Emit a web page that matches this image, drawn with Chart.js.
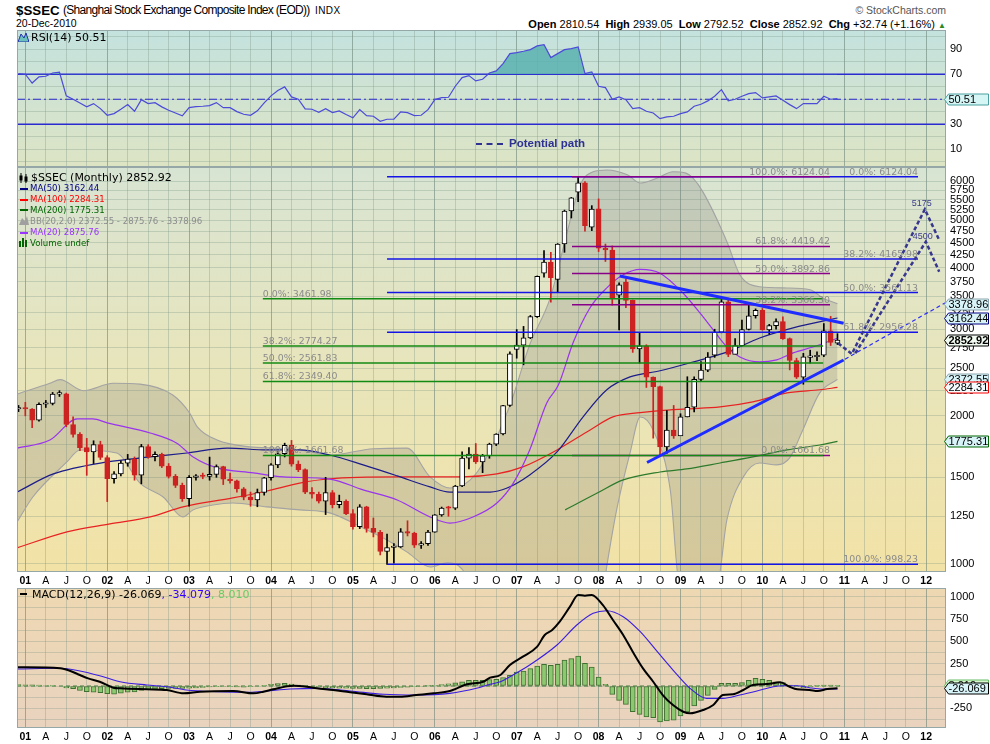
<!DOCTYPE html>
<html>
<head>
<meta charset="utf-8">
<title>$SSEC Monthly</title>
<script src="https://cdn.jsdelivr.net/npm/chart.js@4.4.1/dist/chart.umd.min.js"></script>
<style>
html,body{margin:0;padding:0;background:#fff;}
body{width:990px;height:744px;position:relative;overflow:hidden;}
canvas{position:absolute;left:0;}
.t{position:absolute;white-space:nowrap;z-index:5;line-height:1;}
.dj{font-family:"DejaVu Sans",sans-serif;}
.ar{font-family:"Liberation Sans",Arial,sans-serif;}
.ic{position:absolute;z-index:5;}
</style>
</head>
<body>
<div class="t ar" style="left:16px;top:3.5px;font-size:13.3px;font-weight:bold;">$SSEC</div>
<div class="t ar" style="left:63px;top:4px;font-size:12px;letter-spacing:-0.7px;">(Shanghai Stock Exchange Composite Index (EOD))</div>
<div class="t ar" style="left:315px;top:6px;font-size:10px;letter-spacing:0.4px;">INDX</div>
<div class="t ar" style="left:16px;top:18px;font-size:10.5px;">20-Dec-2010</div>
<div class="t ar" style="right:44px;top:5px;font-size:10.5px;color:#555;">&copy; StockCharts.com</div>
<div class="t ar" style="right:44px;top:18.5px;font-size:11px;"><b>Open</b> 2810.54&nbsp; <b>High</b> 2939.05&nbsp; <b>Low</b> 2792.52&nbsp; <b>Close</b> 2852.92&nbsp; <b>Chg</b> +32.74 (+1.16%) <span style="color:#2a8a2a;font-size:8px;">&#9650;</span></div>

<canvas id="rsi" width="990" height="137" style="top:30px;"></canvas>
<canvas id="main" width="990" height="421" style="top:167px;"></canvas>
<canvas id="macd" width="990" height="156" style="top:588px;"></canvas>

<!-- RSI legend -->
<svg class="ic" style="left:18px;top:32px;" width="11" height="10"><polygon points="0,10 3,2 6,6 8,1 11,10" fill="#6cc0bb" stroke="#2233aa" stroke-width="1"/></svg>
<div class="t dj" style="left:31px;top:31.7px;font-size:11px;color:#000;">RSI(14) 50.51</div>

<!-- potential path legend -->
<div class="ic" style="left:476px;top:143px;width:27px;height:0;border-top:2.5px dashed #2e3192;"></div>
<div class="t ar" style="left:509px;top:138px;font-size:11.5px;font-weight:bold;color:#2e3192;">Potential path</div>

<!-- main legend -->
<svg class="ic" style="left:19px;top:173px;" width="10" height="10"><line x1="2" y1="0" x2="2" y2="10" stroke="#000"/><rect x="0.5" y="2.5" width="3" height="5" fill="#000"/><line x1="7" y1="1" x2="7" y2="10" stroke="#000"/><rect x="5.5" y="3.5" width="3" height="5" fill="#000"/></svg>
<div class="t dj" style="left:31px;top:172.4px;font-size:11px;color:#000;">$SSEC (Monthly) 2852.92</div>
<div class="ic" style="left:20px;top:187.5px;width:8px;height:2px;background:#000080;"></div>
<div class="t dj" style="left:30px;top:184.2px;font-size:8.6px;color:#000080;">MA(50) 3162.44</div>
<div class="ic" style="left:20px;top:198.5px;width:8px;height:2px;background:#ff0000;"></div>
<div class="t dj" style="left:30px;top:195.2px;font-size:8.6px;color:#ff0000;">MA(100) 2284.31</div>
<div class="ic" style="left:20px;top:209.2px;width:8px;height:2px;background:#006400;"></div>
<div class="t dj" style="left:30px;top:205.9px;font-size:8.6px;color:#006400;">MA(200) 1775.31</div>
<svg class="ic" style="left:19px;top:216px;" width="10" height="9"><polygon points="0,9 3,2 6,5 8,0 10,9" fill="#a0a0a0"/></svg>
<div class="t dj" style="left:30px;top:216.9px;font-size:8.6px;color:#8c8c8c;">BB(20,2.0) 2372.55 - 2875.76 - 3378.96</div>
<div class="ic" style="left:20px;top:231.5px;width:8px;height:2px;background:#9933ff;"></div>
<div class="t dj" style="left:30px;top:228.2px;font-size:8.6px;color:#9933ff;">MA(20) 2875.76</div>
<svg class="ic" style="left:19px;top:238px;" width="10" height="9"><rect x="0" y="3" width="2" height="6" fill="#006400"/><rect x="3" y="0" width="2" height="9" fill="#006400"/><rect x="6" y="2" width="2" height="7" fill="#006400"/></svg>
<div class="t dj" style="left:30px;top:238.6px;font-size:8.6px;color:#006400;">Volume undef</div>

<!-- MACD legend -->
<div class="ic" style="left:20px;top:593px;width:7px;height:2px;background:#000;"></div>
<div class="t dj" style="left:32px;top:589px;font-size:11px;color:#000;">MACD(12,26,9) -26.069<span style="color:#3300ff;">, -34.079</span><span style="color:#66cc66;">, 8.010</span></div>

<script>
// ---------------- DATA ----------------
const X_MIN = -1.22, X_MAX = 134.9;      // month index, 0 = Jan 2001
const FIRST_MONTH = -1;                   // first candle = Dec 2000
const xTickLabels = ['01','A','J','O','02','A','J','O','03','A','J','O','04','A','J','O','05','A','J','O','06','A','J','O',
  '07','A','J','O','08','A','J','O','09','A','J','O','10','A','J','O','11','A','J','O','12'];
const priceTicks = [1000,1250,1500,1750,2000,2250,2500,2750,3000,3250,3500,3750,4000,4250,4500,4750,5000,5250,5500,5750,6000];
const rsiTicks = [0,10,20,30,40,50,60,70,80,90,100];
const rsiLabelled = [10,30,50,70,90];
const macdTicks = [-375,-250,-125,0,125,250,375,500,625,750,875,1000];

const opens = [2065,
 2073,2065,1960,2112,2119,2214,2218,1921,1834,1724,1690,1748,
 1646,1491,1524,1603,1634,1515,1732,1653,1670,1581,1507,1445,
 1358,1500,1511,1506,1521,1577,1487,1476,1421,1367,1349,1397,
 1497,1590,1675,1742,1595,1555,1399,1386,1342,1396,1320,1340,
 1266,1191,1306,1181,1159,1060,1080,1083,1162,1155,1092,1099,
 1161,1258,1299,1298,1440,1641,1672,1612,1658,1752,1837,2099,
 2728,2786,2881,3183,3900,4109,3790,4471,5218,5700,5954,4840,
 5273,4383,4348,3520,3740,3433,2736,2775,2397,2293,1729,1871,
 1821,1991,2082,2373,2477,2658,2959,3412,2667,2779,2996,3195,
 3277,2989,3051,3110,2871,2592,2398,2630,2638,2656,2979,2810];
const highs = [2100,
 2131,2070,2125,2150,2232,2250,2225,1990,1850,1800,1780,1776,
 1660,1540,1620,1670,1650,1750,1748,1690,1680,1600,1520,1460,
 1512,1520,1530,1649,1590,1580,1530,1480,1430,1400,1420,1500,
 1600,1690,1760,1783,1620,1560,1430,1400,1500,1410,1380,1350,
 1290,1320,1310,1240,1170,1150,1100,1180,1224,1160,1110,1170,
 1260,1305,1310,1445,1690,1725,1757,1670,1760,1840,2100,2698,
 2995,3040,3200,3850,4335,4300,4480,5240,5560,6124,5990,5350,
 5522,4470,4430,3730,3800,3440,2952,2790,2400,2300,2050,2100,
 2020,2402,2400,2580,2690,3000,3478,3470,2870,3130,3361,3300,
 3306,3070,3150,3181,2880,2620,2680,2720,2700,3080,3186,2939];
const lows = [2040,
 2000,1893,1950,2080,2105,2190,1900,1810,1700,1514,1600,1630,
 1339,1460,1510,1580,1480,1455,1640,1620,1570,1495,1430,1340,
 1311,1480,1490,1480,1500,1450,1460,1400,1350,1310,1307,1380,
 1480,1570,1650,1580,1540,1390,1360,1330,1260,1300,1300,1259,
 1177,1180,1160,1135,1043,998,1004,1080,1140,1080,1075,1090,
 1160,1250,1250,1290,1435,1560,1600,1533,1640,1740,1830,2090,
 2620,2540,2870,3170,3830,3404,3563,4300,5050,5450,4750,4760,
 4315,4120,3357,2990,3320,2692,2560,2284,1802,1664,1678,1800,
 1844,1990,2037,2350,2460,2630,2950,2639,2700,2770,2990,3160,
 2987,2930,3000,2861,2480,2382,2319,2560,2590,2640,2780,2792];
const closes = [2073,
 2065,1960,2112,2119,2214,2218,1921,1834,1724,1690,1748,1646,
 1491,1524,1603,1634,1515,1732,1653,1670,1581,1507,1445,1358,
 1500,1511,1506,1521,1577,1487,1476,1421,1367,1349,1397,1497,
 1590,1675,1742,1595,1555,1399,1386,1342,1396,1320,1340,1266,
 1191,1306,1181,1159,1060,1080,1083,1162,1155,1092,1099,1161,
 1258,1299,1298,1440,1641,1672,1612,1658,1752,1837,2099,2675,
 2786,2881,3183,3841,4109,3820,4471,5218,5552,5954,4871,5262,
 4383,4348,3473,3693,3433,2736,2775,2397,2293,1729,1871,1821,
 1991,2082,2373,2477,2633,2959,3412,2667,2779,2996,3195,3277,
 2989,3051,3110,2871,2592,2398,2638,2638,2656,2979,2820,2852.92];

const rsi14 = [70.5,
 70,63,67.9,68.4,71,71.6,52.7,50,47,43.9,46.5,42.5,
 37.2,38.5,42,45.7,40.4,49.7,46.5,47.3,43.9,41.2,39,36.7,
 43.3,44.1,44.4,44.9,47.3,43.3,43.3,40.1,38,37.2,40.7,47.1,
 52.7,57,59.9,51.9,50,42.3,42,39.6,42.5,39.3,40.7,37.8,
 35.1,41.7,36.9,36.4,32.4,34,34,39.9,39.3,36.9,37.2,41.7,
 49.7,51.3,51.6,60.4,67.3,68.9,64.7,66,71,72.7,78.5,86.5,
 87.3,88.4,89.7,92.7,93.7,83.3,86.5,89.7,90.5,91.9,70.5,71.9,
 60.4,59.3,50,51.9,49.7,42.5,43.3,40.4,39,34.5,35.9,36.4,
 38.5,39.9,44.4,46,48.7,52.4,57.7,48.7,50,52.4,54.5,55.3,
 51.1,51.9,52.7,49.2,45.7,42.5,46.5,46.5,46.5,52.4,50,50.51];

const macdHist = [15,
 14,12,9,6,3,0,-20,-30,-50,-62,-70,-75,
 -85,-90,-80,-70,-65,-48,-42,-35,-30,-28,-26,-28,
 -25,-20,-15,-10,-8,-5,-8,-10,-12,-8,0,8,
 18,28,30,22,10,5,-5,-10,-18,-22,-25,-25,
 -28,-28,-30,-30,-28,-25,-22,-15,-12,-8,-5,5,
 8,15,25,35,48,63,63,63,71,75,93,120,
 157,168,194,224,243,231,243,291,306,336,254,213,
 101,19,-93,-160,-205,-287,-317,-347,-355,-403,-392,-381,
 -336,-291,-224,-160,-104,-37,30,30,30,37,64,86,
 75,64,48,37,11,-8,-19,-8,8,11,11,8.01];

// sparse [month, value] readings of the overlay lines
const ma20 = [[-1.2,1720],[3.6,1786],[7.6,1972],[9.9,1972],[12.0,1935],[18.3,1846],[22.2,1760],[24.6,1650],[28.1,1568],[33.4,1532],[37.8,1503],[44.6,1488],[49.5,1414],[54.5,1349],[59.3,1246],[62.2,1211],[65.6,1246],[69.1,1330],[71.5,1460],[73.9,1705],[76.4,2125],[78.1,2310],[80.3,2825],[82.7,3310],[85.2,3640],[87.6,3870],[90.1,3970],[93.0,3900],[96.4,3550],[98.9,3230],[100.8,2990],[102.8,2760],[104.7,2635],[107.6,2575],[110.1,2600],[112.5,2685],[115.4,2760],[119,2875.76]];
const ma50 = [[-1.2,1400],[4.1,1524],[12.0,1612],[18.3,1650],[23.7,1681],[29.6,1720],[35.4,1705],[40.2,1705],[44.6,1665],[49.5,1590],[54.5,1510],[59.3,1434],[62.2,1400],[68.1,1400],[70.6,1427],[73.9,1517],[77.9,1689],[81.7,1989],[85.2,2260],[88.6,2400],[93.0,2470],[97.8,2573],[102.8,2695],[107.6,2880],[112.5,3020],[119,3162.44]];
const ma100 = [[-1.2,1078],[6.1,1162],[12.4,1206],[18.3,1246],[23.1,1306],[30.4,1362],[35.4,1407],[40.2,1460],[44.6,1490],[54.5,1503],[64.1,1503],[69.1,1524],[72.9,1575],[77.9,1705],[82.7,1870],[86.1,1990],[90.1,2030],[93.0,2050],[96.9,2066],[101.8,2085],[106.6,2135],[111.6,2227],[116.4,2260],[119,2284.31]];
const ma200 = [[79.1,1288],[83.8,1394],[87.6,1482],[93.0,1538],[96.9,1560],[101.8,1604],[106.6,1650],[111.6,1705],[116.4,1745],[119,1775.31]];
const bbUpper = [[-1.2,2215],[3.6,2330],[5.1,2370],[8.5,2250],[12.9,2330],[16.8,2320],[21.6,2205],[24.1,2025],[25.2,1900],[28.1,1786],[32.9,1730],[36.9,1720],[40.2,1705],[44.6,1665],[51.0,1715],[55.9,1720],[59.3,1503],[62.2,1427],[65.2,1482],[67.6,1650],[71.0,2100],[73.9,2790],[76.9,3470],[79.4,4730],[81.3,5890],[83.2,6270],[85.2,6320],[88.2,6180],[90.1,5950],[92.6,6090],[94.9,6270],[96.8,6230],[97.8,6090],[99.3,5700],[102.8,4520],[104.7,3870],[107.6,3660],[111.6,3640],[115.0,3610],[116.9,3470],[119,3378.96]];
const bbLower = [[-1.2,1217],[1.1,1368],[6.1,1612],[8.0,1705],[13.4,1681],[16.8,1460],[20.2,1368],[23.1,1246],[24.6,1288],[27.5,1318],[30.4,1330],[35.4,1306],[40.2,1288],[44.6,1270],[49.5,1183],[53.0,1119],[55.9,1058],[59.3,986],[61.8,1005],[64.1,972],[65.9,800],[84.2,800],[85.2,990],[86.7,1300],[88.6,1681],[90.1,1990],[92.0,1870],[94.5,1414],[95.9,900],[101.3,900],[102.8,1230],[105.2,1503],[107.6,1604],[110.1,1590],[112.0,1643],[113.9,1870],[116.4,2227],[119,2372.55]];

const macdLine = [[-1.2,209],[0.2,209],[5.1,198],[6.6,168],[8.0,123],[9.2,86],[10.9,48],[12.9,-19],[13.9,-26],[17.8,-37],[20.7,-45],[23.2,-82],[25.6,-64],[30.5,-56],[33.4,-82],[34.9,-64],[36.3,-37],[39.3,3],[41.2,-8],[42.7,-26],[45.1,-45],[47.6,-71],[50.0,-93],[52.9,-120],[54.9,-120],[57.3,-101],[59.8,-82],[62.2,-56],[64.7,19],[67.1,48],[68.1,93],[69.6,123],[71.0,235],[72.9,328],[75.0,440],[76.1,571],[77.2,627],[78.3,720],[79.8,888],[81.0,1019],[82.0,1011],[83.0,1019],[84.6,907],[86.1,739],[87.6,571],[89.0,384],[90.5,198],[92.0,48],[93.4,-101],[94.9,-213],[96.4,-288],[97.4,-306],[99.3,-269],[100.8,-213],[102.2,-101],[103.7,-93],[105.2,-45],[106.6,11],[108.7,22],[110.6,41],[112.0,-8],[113.1,-37],[114.9,-45],[116.1,-56],[117.5,-34],[119,-26.069]];
const signalLine = [[-1.2,190],[5.1,198],[8.0,168],[10.9,115],[13.9,48],[17.8,11],[20.7,-8],[23.6,-45],[28.0,-64],[32.9,-71],[35.4,-56],[38.8,-34],[42.7,-26],[47.6,-56],[52.5,-93],[57.3,-101],[62.2,-82],[66.1,-26],[68.1,19],[69.6,48],[71.0,104],[73.9,235],[77.9,459],[80.8,683],[83.2,814],[85.2,843],[87.6,776],[90.1,608],[92.6,384],[94.9,179],[97.4,-26],[99.8,-138],[102.2,-138],[104.7,-101],[107.2,-56],[109.6,-8],[111.0,3],[113.1,3],[114.9,-19],[116.9,-34],[119,-34.079]];

// Fibonacci retracement sets
const fibBlueLevels = [6124.04, 4165.98, 3561.13, 2956.28, 998.23];
const fibBlueNames = ['0.0%','38.2%','50.0%','61.8%','100.0%'];
const fibBlueSpan = [53.0, 130.8];
const fibPurpleLevels = [6124.04, 4419.42, 3892.86, 3366.30, 1661.68];
const fibPurpleNames = ['100.0%','61.8%','50.0%','38.2%','0.0%'];
const fibPurpleSpan = [80.1, 117.9];
const fibGreenLevels = [3461.98, 2774.27, 2561.83, 2349.40, 1661.68];
const fibGreenNames = ['0.0%','38.2%','50.0%','61.8%','100.0%'];
const fibGreenSpan = [34.8, 116.9];

// trend lines and projected path
const trendDown = [[87.1, 3849], [119.9, 3085]];
const trendUp = [[91.1, 1608], [119.9, 2598]];
const trendUpExt = [[120.1, 2608], [134.9, 3401]];
const pathA = [[119.1, 2809], [121.1, 2672], [131.8, 5260], [133.9, 4556]];
const pathB = [[121.6, 2681], [131.95, 4519], [133.9, 3928]];
const pathPeakLabels = ['5175', '4500'];

// ---------------- HELPERS ----------------
const months = closes.map((_, i) => FIRST_MONTH + i);
const toXY = pairs => pairs.map(([x, y]) => ({ x, y }));
const last = pairs => pairs[pairs.length - 1][1];
const isUp = i => closes[i] >= opens[i];

function lineDS(pairs, color, width, order, extra) {
  return Object.assign({ type: 'line', data: toXY(pairs), borderColor: color, borderWidth: width,
    pointRadius: 0, fill: false, order: order, tension: 0 }, extra || {});
}
const smooth = { cubicInterpolationMode: 'monotone' };

function xScale(showLabels) {
  return {
    type: 'linear', min: X_MIN, max: X_MAX, bounds: 'data', offset: false,
    afterBuildTicks: s => { s.ticks = xTickLabels.map((_, i) => ({ value: i * 3 })); },
    afterFit: s => { s.height = showLabels ? 16 : 0; s.paddingLeft = 0; s.paddingRight = 0; },
    border: { display: false },
    grid: { offset: false, drawTicks: false, lineWidth: 1,
      color: c => (c.tick && c.tick.value % 12 === 0) ? 'rgba(100,125,115,0.55)' : 'rgba(120,145,130,0.33)' },
    ticks: { display: showLabels, autoSkip: false, maxRotation: 0, minRotation: 0, padding: 3, color: '#000',
      font: c => ({ family: 'Liberation Sans', size: 10.5, weight: (c.tick && c.tick.value % 12 === 0) ? 'bold' : 'normal' }),
      callback: (v, i) => xTickLabels[i] }
  };
}
function yScale(opts) {
  return Object.assign({
    position: 'right', bounds: 'data',
    afterFit: s => { s.width = 44; s.paddingTop = 0; s.paddingBottom = 0; },
    border: { display: false },
    grid: { drawTicks: false, color: 'rgba(120,145,130,0.3)', lineWidth: 1 }
  }, opts);
}
const tickFont = { family: 'Liberation Sans', size: 11 };

function bgPlugin(stops) {
  return { id: 'bg', beforeDraw(chart) {
    const { ctx, chartArea: a } = chart;
    const g = ctx.createLinearGradient(0, a.top, 0, a.bottom);
    stops.forEach(s => g.addColorStop(s[0], s[1]));
    ctx.save(); ctx.fillStyle = g; ctx.fillRect(a.left, a.top, a.right - a.left, a.bottom - a.top); ctx.restore();
  }};
}
const framePlugin = { id: 'frame', afterDatasetsDraw(chart) {
  const { ctx, chartArea: a } = chart;
  ctx.save(); ctx.strokeStyle = '#95a7a7'; ctx.lineWidth = 1;
  ctx.strokeRect(a.left + 0.5, a.top + 0.5, a.right - a.left - 1, a.bottom - a.top - 1); ctx.restore();
}};
function badgePlugin(items) {
  return { id: 'badges', afterDraw(chart) {
    const { ctx, chartArea: a, scales } = chart;
    items.forEach(b => {
      const py = Math.round(scales.y.getPixelForValue(b.value)) + 0.5;
      const x0 = a.right - 1.5, x1 = x0 + 4, x2 = 988.5, h = 5.5;
      ctx.save();
      ctx.beginPath(); ctx.moveTo(x0, py); ctx.lineTo(x1, py - h); ctx.lineTo(x2, py - h);
      ctx.lineTo(x2, py + h); ctx.lineTo(x1, py + h); ctx.closePath();
      ctx.fillStyle = b.fill; ctx.fill(); ctx.strokeStyle = b.border; ctx.lineWidth = 1; ctx.stroke();
      ctx.fillStyle = '#000'; ctx.font = (b.bold ? 'bold ' : '') + '11px "Liberation Sans"';
      ctx.textBaseline = 'middle'; ctx.textAlign = 'left';
      ctx.fillText(b.text, x0 + 4, py + 0.5);
      ctx.restore();
    });
  }};
}
const common = {
  responsive: false, maintainAspectRatio: false, animation: false, devicePixelRatio: 1, events: [],
  layout: { padding: { left: 17, right: 0, top: 0, bottom: 0 } },
  plugins: { legend: { display: false }, tooltip: { enabled: false } },
  elements: { point: { radius: 0 } }
};

// ---------------- RSI ----------------
new Chart(document.getElementById('rsi'), {
  type: 'line',
  data: { datasets: [
    { type: 'line', data: months.map((m, i) => ({ x: m, y: rsi14[i] })), borderColor: '#4b4bd8', borderWidth: 1.2,
      pointRadius: 0, tension: 0, order: 1,
      fill: { target: { value: 70 }, above: 'rgba(90,178,176,0.85)', below: 'rgba(0,0,0,0)' } },
    lineDS([[X_MIN, 70], [X_MAX, 70]], '#2a2ad0', 1.3, 3),
    lineDS([[X_MIN, 30], [X_MAX, 30]], '#2a2ad0', 1.3, 3),
    lineDS([[X_MIN, 50], [X_MAX, 50]], '#2a2ad0', 1.2, 3, { borderDash: [8, 3, 2, 3] })
  ]},
  options: Object.assign({}, common, { scales: {
    x: xScale(false),
    y: yScale({ type: 'linear', min: -4.2, max: 105.4,
      afterBuildTicks: s => { s.ticks = rsiTicks.map(v => ({ value: v })); },
      ticks: { padding: 4, color: '#000', font: tickFont, autoSkip: false,
        callback: v => rsiLabelled.includes(v) ? String(v) : '' } })
  }}),
  plugins: [bgPlugin([[0, '#c4e2de'], [1, '#dde4c4']]), framePlugin,
    badgePlugin([{ value: rsi14[rsi14.length - 1], text: rsi14[rsi14.length - 1].toFixed(2), fill: '#d6f5f5', border: '#4aa0a0' }])]
});

// ---------------- MAIN PRICE ----------------
const mainDatasets = [
  lineDS(bbUpper, '#a3a3a3', 1.1, 29, smooth),
  lineDS(bbLower, '#a3a3a3', 1.1, 30, Object.assign({ fill: '-1', backgroundColor: 'rgba(118,118,118,0.23)' }, smooth)),
  lineDS(ma200, '#2c7a2c', 1.2, 25, smooth),
  lineDS(ma100, '#e82222', 1.2, 24, smooth),
  lineDS(ma50, '#1c1c8a', 1.2, 23, smooth),
  lineDS(ma20, '#9933ee', 1.2, 22, smooth),
  { type: 'bar', data: months.map((m, i) => ({ x: m, y: [lows[i], highs[i]] })), grouped: false, order: 15,
    barThickness: 1, backgroundColor: c => isUp(c.dataIndex) ? '#000000' : '#cc2222' },
  { type: 'bar', data: months.map((m, i) => ({ x: m, y: [opens[i], closes[i]] })), grouped: false, order: 14,
    barThickness: 5, minBarLength: 1.5, borderWidth: 1, borderSkipped: false,
    backgroundColor: c => isUp(c.dataIndex) ? '#ffffff' : '#cc2222',
    borderColor: c => isUp(c.dataIndex) ? '#000000' : '#cc2222' }
];
const fibSets = [
  { levels: fibBlueLevels, names: fibBlueNames, span: fibBlueSpan, color: '#1414e6', align: 'right', order: 12 },
  { levels: fibPurpleLevels, names: fibPurpleNames, span: fibPurpleSpan, color: '#880088', align: 'right', order: 11 },
  { levels: fibGreenLevels, names: fibGreenNames, span: fibGreenSpan, color: '#138a13', align: 'left', order: 10 }
];
fibSets.forEach(s => s.levels.forEach(lv =>
  mainDatasets.push(lineDS([[s.span[0], lv], [s.span[1], lv]], s.color, 1.5, s.order))));
mainDatasets.push(lineDS(trendUpExt, '#2a2aff', 1.2, 5, { borderDash: [4, 3] }));
mainDatasets.push(lineDS(trendDown, '#1f2cff', 3, 4));
mainDatasets.push(lineDS(trendUp, '#1f2cff', 3, 4));
mainDatasets.push(lineDS(pathA, '#37378f', 2.5, 2, { borderDash: [4, 2.5] }));
mainDatasets.push(lineDS(pathB, '#37378f', 2.5, 2, { borderDash: [4, 2.5] }));

const fibLabelPlugin = { id: 'fibLabels', afterDatasetsDraw(chart) {
  const { ctx, scales } = chart;
  ctx.save(); ctx.font = '9.4px "DejaVu Sans"'; ctx.fillStyle = '#8a8a8a'; ctx.textBaseline = 'alphabetic';
  fibSets.forEach(s => s.levels.forEach((lv, i) => {
    const py = scales.y.getPixelForValue(lv) - 2;
    const txt = s.names[i] + ': ' + lv.toFixed(2);
    if (s.align === 'left') { ctx.textAlign = 'left'; ctx.fillText(txt, scales.x.getPixelForValue(s.span[0]), py); }
    else { ctx.textAlign = 'right'; ctx.fillText(txt, scales.x.getPixelForValue(s.span[1]), py); }
  }));
  ctx.font = '9px "Liberation Sans"'; ctx.fillStyle = '#3a3a8a'; ctx.textAlign = 'center';
  [pathA[2], pathB[1]].forEach((p, i) => {
    ctx.fillText(pathPeakLabels[i], scales.x.getPixelForValue(p[0]) - 3, scales.y.getPixelForValue(p[1]) - 3);
  });
  ctx.restore();
}};

new Chart(document.getElementById('main'), {
  type: 'line',
  data: { datasets: mainDatasets },
  options: Object.assign({}, common, { scales: {
    x: xScale(true),
    y: yScale({ type: 'logarithmic', min: 963, max: 6411,
      afterBuildTicks: s => { s.ticks = priceTicks.map(v => ({ value: v })); },
      ticks: { padding: 4, color: '#000', font: tickFont, autoSkip: false, callback: v => String(v) } })
  }}),
  plugins: [bgPlugin([[0, '#d8e4d3'], [0.5, '#e8e5bb'], [1, '#f2e2a6']]), fibLabelPlugin, framePlugin,
    badgePlugin([
      { value: last(bbUpper), text: last(bbUpper).toFixed(2), fill: '#d8f4f8', border: '#8aa6ae' },
      { value: last(ma50), text: last(ma50).toFixed(2), fill: '#d8f4f8', border: '#000080' },
      { value: closes[closes.length - 1], text: closes[closes.length - 1].toFixed(2), fill: '#f2fbf2', border: '#000000', bold: true },
      { value: last(bbLower), text: last(bbLower).toFixed(2), fill: '#d8f4f8', border: '#8aa6ae' },
      { value: last(ma100), text: last(ma100).toFixed(2), fill: '#f4fbfd', border: '#ff0000' },
      { value: last(ma200), text: last(ma200).toFixed(2), fill: '#d8f4f8', border: '#006400' }
    ])]
});

// ---------------- MACD ----------------
new Chart(document.getElementById('macd'), {
  type: 'line',
  data: { datasets: [
    lineDS([[X_MIN, 0], [119.5, 0]], '#3f7d3f', 1, 10, { borderDash: [4, 3] }),
    { type: 'bar', data: months.map((m, i) => ({ x: m, y: macdHist[i] })), grouped: false, order: 9,
      barThickness: 5, borderWidth: 1, borderSkipped: false, backgroundColor: '#8cc870', borderColor: '#3e6e30' },
    lineDS(signalLine, '#3a1ee0', 1.1, 8, smooth),
    lineDS(macdLine, '#000000', 2, 7, smooth)
  ]},
  options: Object.assign({}, common, { scales: {
    x: xScale(true),
    y: yScale({ type: 'linear', min: -470, max: 1097,
      afterBuildTicks: s => { s.ticks = macdTicks.map(v => ({ value: v })); },
      ticks: { padding: 4, color: '#000', font: tickFont, autoSkip: false,
        callback: v => (v % 250 === 0) ? String(v) : '' } })
  }}),
  plugins: [bgPlugin([[0, '#eed8b2'], [1, '#e9d3bf']]), framePlugin,
    badgePlugin([
      { value: macdHist[macdHist.length - 1], text: macdHist[macdHist.length - 1].toFixed(3), fill: '#d8f8d0', border: '#66bb66' },
      { value: last(macdLine), text: last(macdLine).toFixed(3), fill: '#d8f4f8', border: '#000000' }
    ])]
});
</script>
</body>
</html>
